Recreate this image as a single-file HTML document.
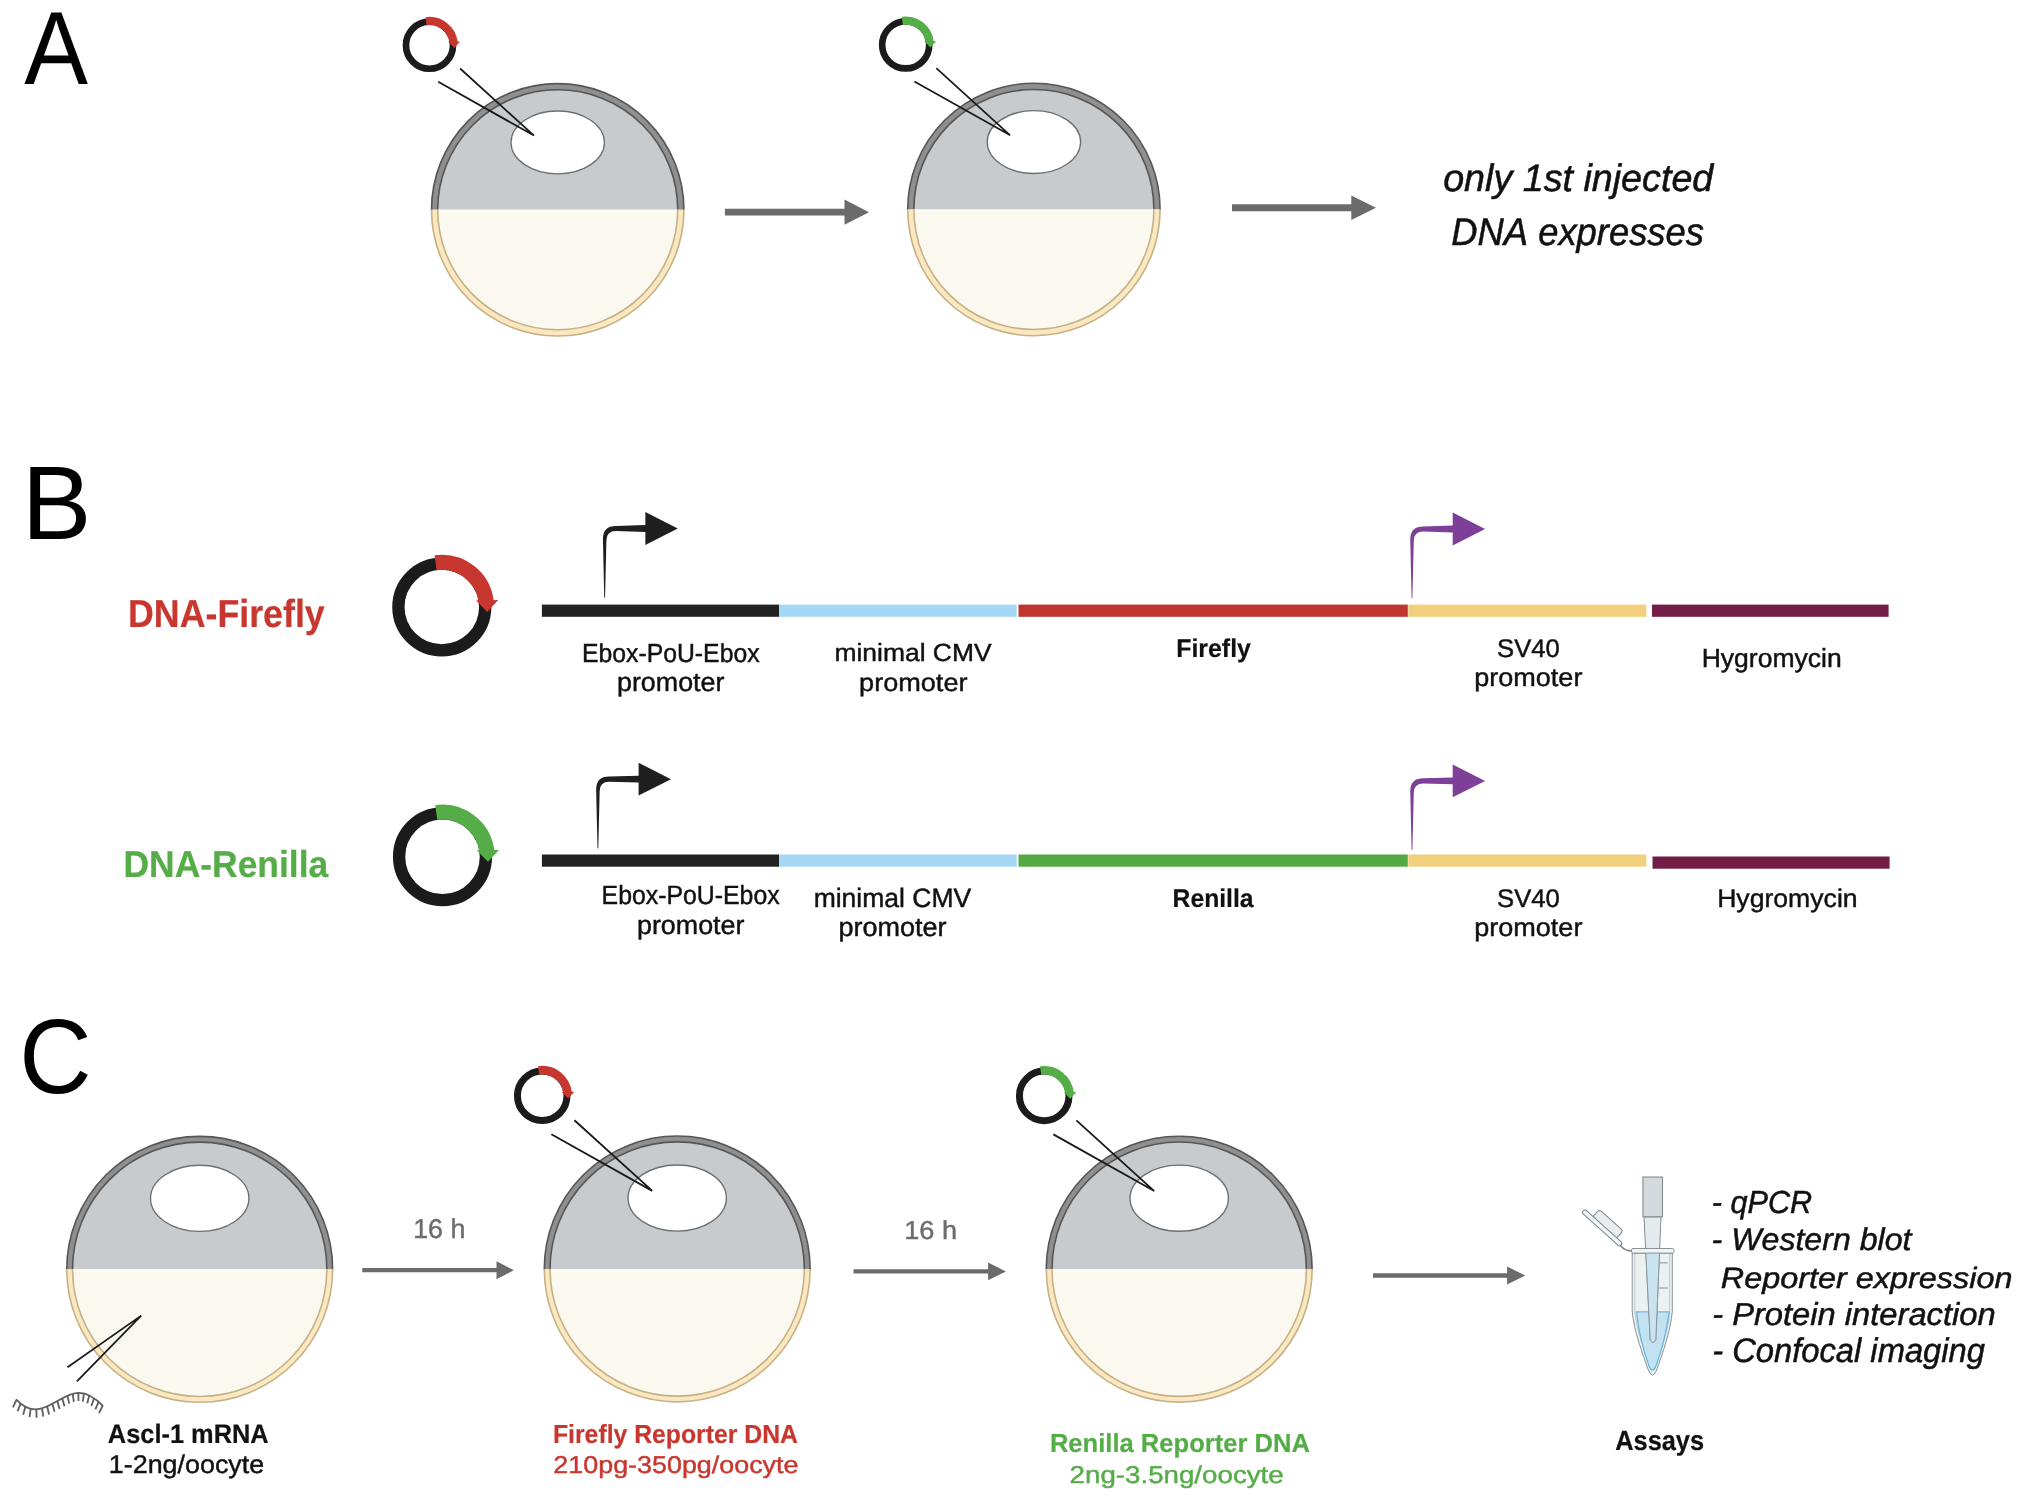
<!DOCTYPE html>
<html><head><meta charset="utf-8"><style>
html,body{margin:0;padding:0;background:#fff;width:2024px;height:1503px;overflow:hidden}
svg{display:block;will-change:transform}
text{font-family:"Liberation Sans",sans-serif;font-kerning:none;text-rendering:geometricPrecision}
</style></head><body>
<svg width="2024" height="1503" viewBox="0 0 2024 1503">
<rect width="2024" height="1503" fill="#fff"/>
<defs><clipPath id="ctop"><rect x="-200" y="-200" width="400" height="200"/></clipPath><clipPath id="cbot"><rect x="-200" y="0" width="400" height="200"/></clipPath></defs>
<text transform="translate(24.21,84.20) scale(0.9213,1)" style="font-size:103.78px;font-weight:400;font-style:normal" fill="#000" stroke="#000" stroke-width="0.00" >A</text>
<text transform="translate(21.63,538.50) scale(0.9996,1)" style="font-size:104.51px;font-weight:400;font-style:normal" fill="#000" stroke="#000" stroke-width="0.00" >B</text>
<text transform="translate(19.26,1093.01) scale(0.9452,1)" style="font-size:106.00px;font-weight:400;font-style:normal" fill="#000" stroke="#000" stroke-width="0.00" >C</text>
<g transform="translate(557.7,209.8) scale(1.0)">
<g><g clip-path="url(#ctop)"><circle r="124" fill="#c8cbce"/><circle r="123.1" fill="none" stroke="#565656" stroke-width="7.8"/><circle r="123.1" fill="none" stroke="#8f8f8f" stroke-width="4.6"/></g><g clip-path="url(#cbot)"><circle r="124" fill="#fbf8f0"/><rect x="-124" y="0.3" width="248" height="2.2" fill="#fffdf3"/><circle r="123.1" fill="none" stroke="#c4b186" stroke-width="7.8"/><circle r="123.1" fill="none" stroke="#fbe8c0" stroke-width="4.6"/></g><ellipse cx="0" cy="-67.4" rx="46.7" ry="31.4" fill="#ffffff" stroke="#6b7075" stroke-width="1.3"/></g>
<path d="M-119.5,-128 L-23.7,-74.2 M-97.6,-141.3 L-23.7,-74.2" fill="none" stroke="#1a1a1a" stroke-width="1.75"/>
<g transform="translate(-128.2,-164.6) scale(0.542)"><g><circle cx="0" cy="0" r="43.4" fill="none" stroke="#1b1b1b" stroke-width="12.3"/><path d="M-6.23,-44.31 A44.75,44.75 0 0 1 44.50,-4.68" fill="none" stroke="#c8372f" stroke-width="15"/><path d="M34.2,-6.6 L56.4,-6.9 L45.5,5.0 Z" fill="#c8372f"/></g></g>
</g>
<g transform="translate(1033.9,209.5) scale(1.0)">
<g><g clip-path="url(#ctop)"><circle r="124" fill="#c8cbce"/><circle r="123.1" fill="none" stroke="#565656" stroke-width="7.8"/><circle r="123.1" fill="none" stroke="#8f8f8f" stroke-width="4.6"/></g><g clip-path="url(#cbot)"><circle r="124" fill="#fbf8f0"/><rect x="-124" y="0.3" width="248" height="2.2" fill="#fffdf3"/><circle r="123.1" fill="none" stroke="#c4b186" stroke-width="7.8"/><circle r="123.1" fill="none" stroke="#fbe8c0" stroke-width="4.6"/></g><ellipse cx="0" cy="-67.4" rx="46.7" ry="31.4" fill="#ffffff" stroke="#6b7075" stroke-width="1.3"/></g>
<path d="M-119.5,-128 L-23.7,-74.2 M-97.6,-141.3 L-23.7,-74.2" fill="none" stroke="#1a1a1a" stroke-width="1.75"/>
<g transform="translate(-128.2,-164.6) scale(0.542)"><g><circle cx="0" cy="0" r="43.4" fill="none" stroke="#1b1b1b" stroke-width="12.3"/><path d="M-6.23,-44.31 A44.75,44.75 0 0 1 44.50,-4.68" fill="none" stroke="#55ad47" stroke-width="15"/><path d="M34.2,-6.6 L56.4,-6.9 L45.5,5.0 Z" fill="#55ad47"/></g></g>
</g>
<path d="M724.9,208.85 L844.5,208.85 L844.5,199.60 L869,212.2 L844.5,224.80 L844.5,215.55 L724.9,215.55 Z" fill="#6b6b6b"/>
<path d="M1232,204.30 L1351.3,204.30 L1351.3,195.50 L1376,207.8 L1351.3,220.10 L1351.3,211.30 L1232,211.30 Z" fill="#6b6b6b"/>
<text transform="translate(1443.14,191.20) scale(0.9881,1)" style="font-size:38.13px;font-weight:400;font-style:italic" fill="#111" stroke="#111" stroke-width="0.54" >only 1st injected</text>
<text transform="translate(1451.35,244.90) scale(0.9466,1)" style="font-size:38.42px;font-weight:400;font-style:italic" fill="#111" stroke="#111" stroke-width="0.54" >DNA expresses</text>
<text transform="translate(128.03,627.00) scale(0.9165,1)" style="font-size:39.03px;font-weight:700;font-style:normal" fill="#c8372f" stroke="#c8372f" stroke-width="0.24" >DNA-Firefly</text>
<text transform="translate(123.55,877.00) scale(0.9479,1)" style="font-size:37.37px;font-weight:700;font-style:normal" fill="#55ad47" stroke="#55ad47" stroke-width="0.24" >DNA-Renilla</text>
<g transform="translate(441.8,607)"><g><circle cx="0" cy="0" r="43.4" fill="none" stroke="#1b1b1b" stroke-width="12.3"/><path d="M-6.23,-44.31 A44.75,44.75 0 0 1 44.50,-4.68" fill="none" stroke="#c8372f" stroke-width="15"/><path d="M34.2,-6.6 L56.4,-6.9 L45.5,5.0 Z" fill="#c8372f"/></g></g>
<g transform="translate(442.5,856.8)"><g><circle cx="0" cy="0" r="43.4" fill="none" stroke="#1b1b1b" stroke-width="12.3"/><path d="M-6.23,-44.31 A44.75,44.75 0 0 1 44.50,-4.68" fill="none" stroke="#55ad47" stroke-width="15"/><path d="M34.2,-6.6 L56.4,-6.9 L45.5,5.0 Z" fill="#55ad47"/></g></g>
<rect x="541.9" y="604.60" width="237.10" height="12.2" fill="#222222"/>
<rect x="779" y="604.60" width="237.70" height="12.2" fill="#a5d8f6"/>
<rect x="1018.5" y="604.60" width="389.30" height="12.2" fill="#c0352d"/>
<rect x="1408.3" y="604.60" width="238.00" height="12.2" fill="#f2cf7c"/>
<rect x="1652" y="604.60" width="236.60" height="12.2" fill="#721d45"/>
<rect x="541.9" y="854.50" width="237.10" height="12.2" fill="#222222"/>
<rect x="779" y="854.50" width="237.70" height="12.2" fill="#a5d8f6"/>
<rect x="1018.5" y="854.50" width="389.30" height="12.2" fill="#55a944"/>
<rect x="1408.3" y="854.50" width="238.00" height="12.2" fill="#f2cf7c"/>
<rect x="1652.5" y="856.50" width="237.10" height="12.2" fill="#721d45"/>
<path transform="translate(604.66,528.6)" fill="#1f1f1f" d="M-0.4,69.2 L-1.75,10.4 Q-1.75,-2.6 11.3,-2.6 L40.7,-3.5 L40.7,-16.5 L73.1,0 L40.7,16.4 L40.7,3.4 L11.3,2.5 Q1.75,2.5 1.75,12 L0.4,69.2 Z"/>
<path transform="translate(597.9,779.2)" fill="#1f1f1f" d="M-0.4,69.2 L-1.75,10.4 Q-1.75,-2.6 11.3,-2.6 L40.7,-3.5 L40.7,-16.5 L73.1,0 L40.7,16.4 L40.7,3.4 L11.3,2.5 Q1.75,2.5 1.75,12 L0.4,69.2 Z"/>
<path transform="translate(1412,529.0)" fill="#7e3f98" d="M-0.4,69.2 L-1.75,10.4 Q-1.75,-2.6 11.3,-2.6 L40.7,-3.5 L40.7,-16.5 L73.1,0 L40.7,16.4 L40.7,3.4 L11.3,2.5 Q1.75,2.5 1.75,12 L0.4,69.2 Z"/>
<path transform="translate(1412,780.9)" fill="#7e3f98" d="M-0.4,69.2 L-1.75,10.4 Q-1.75,-2.6 11.3,-2.6 L40.7,-3.5 L40.7,-16.5 L73.1,0 L40.7,16.4 L40.7,3.4 L11.3,2.5 Q1.75,2.5 1.75,12 L0.4,69.2 Z"/>
<text transform="translate(581.89,661.50) scale(0.9516,1)" style="font-size:26.05px;font-weight:400;font-style:normal" fill="#111" stroke="#111" stroke-width="0.44" >Ebox-PoU-Ebox</text>
<text transform="translate(616.99,691.30) scale(1.0164,1)" style="font-size:26.41px;font-weight:400;font-style:normal" fill="#111" stroke="#111" stroke-width="0.45" >promoter</text>
<text transform="translate(834.46,661.40) scale(1.0651,1)" style="font-size:24.82px;font-weight:400;font-style:normal" fill="#111" stroke="#111" stroke-width="0.43" >minimal CMV</text>
<text transform="translate(859.07,690.50) scale(1.0763,1)" style="font-size:25.18px;font-weight:400;font-style:normal" fill="#111" stroke="#111" stroke-width="0.44" >promoter</text>
<text transform="translate(1176.23,657.20) scale(0.9697,1)" style="font-size:25.67px;font-weight:700;font-style:normal" fill="#111" stroke="#111" stroke-width="0.20" >Firefly</text>
<text transform="translate(1497.06,657.20) scale(0.9997,1)" style="font-size:25.61px;font-weight:400;font-style:normal" fill="#111" stroke="#111" stroke-width="0.44" >SV40</text>
<text transform="translate(1474.18,686.30) scale(1.0549,1)" style="font-size:25.65px;font-weight:400;font-style:normal" fill="#111" stroke="#111" stroke-width="0.44" >promoter</text>
<text transform="translate(1701.65,666.90) scale(1.0131,1)" style="font-size:26.19px;font-weight:400;font-style:normal" fill="#111" stroke="#111" stroke-width="0.45" >Hygromycin</text>
<text transform="translate(601.59,904.20) scale(0.9433,1)" style="font-size:26.33px;font-weight:400;font-style:normal" fill="#111" stroke="#111" stroke-width="0.45" >Ebox-PoU-Ebox</text>
<text transform="translate(636.99,933.80) scale(1.0164,1)" style="font-size:26.41px;font-weight:400;font-style:normal" fill="#111" stroke="#111" stroke-width="0.45" >promoter</text>
<text transform="translate(813.66,907.00) scale(0.9961,1)" style="font-size:26.60px;font-weight:400;font-style:normal" fill="#111" stroke="#111" stroke-width="0.45" >minimal CMV</text>
<text transform="translate(838.58,936.40) scale(1.0222,1)" style="font-size:26.41px;font-weight:400;font-style:normal" fill="#111" stroke="#111" stroke-width="0.45" >promoter</text>
<text transform="translate(1172.54,907.20) scale(0.9635,1)" style="font-size:25.67px;font-weight:700;font-style:normal" fill="#111" stroke="#111" stroke-width="0.20" >Renilla</text>
<text transform="translate(1497.06,907.20) scale(0.9997,1)" style="font-size:25.61px;font-weight:400;font-style:normal" fill="#111" stroke="#111" stroke-width="0.44" >SV40</text>
<text transform="translate(1474.18,936.30) scale(1.0549,1)" style="font-size:25.65px;font-weight:400;font-style:normal" fill="#111" stroke="#111" stroke-width="0.44" >promoter</text>
<text transform="translate(1717.14,907.00) scale(1.0434,1)" style="font-size:25.50px;font-weight:400;font-style:normal" fill="#111" stroke="#111" stroke-width="0.44" >Hygromycin</text>
<g transform="translate(199.7,1269.3) scale(1.053)">
<g><g clip-path="url(#ctop)"><circle r="124" fill="#c8cbce"/><circle r="123.5" fill="none" stroke="#565656" stroke-width="7.0"/><circle r="123.5" fill="none" stroke="#8f8f8f" stroke-width="4.0"/></g><g clip-path="url(#cbot)"><circle r="124" fill="#fbf8f0"/><rect x="-124" y="0.3" width="248" height="2.2" fill="#fffdf3"/><circle r="123.5" fill="none" stroke="#c4b186" stroke-width="7.0"/><circle r="123.5" fill="none" stroke="#fbe8c0" stroke-width="4.0"/></g><ellipse cx="0" cy="-67.4" rx="46.7" ry="31.4" fill="#ffffff" stroke="#6b7075" stroke-width="1.3"/></g>
</g>
<g transform="translate(677.2,1269.0) scale(1.053)">
<g><g clip-path="url(#ctop)"><circle r="124" fill="#c8cbce"/><circle r="123.5" fill="none" stroke="#565656" stroke-width="7.0"/><circle r="123.5" fill="none" stroke="#8f8f8f" stroke-width="4.0"/></g><g clip-path="url(#cbot)"><circle r="124" fill="#fbf8f0"/><rect x="-124" y="0.3" width="248" height="2.2" fill="#fffdf3"/><circle r="123.5" fill="none" stroke="#c4b186" stroke-width="7.0"/><circle r="123.5" fill="none" stroke="#fbe8c0" stroke-width="4.0"/></g><ellipse cx="0" cy="-67.4" rx="46.7" ry="31.4" fill="#ffffff" stroke="#6b7075" stroke-width="1.3"/></g>
<path d="M-119.5,-128 L-23.7,-74.2 M-97.6,-141.3 L-23.7,-74.2" fill="none" stroke="#1a1a1a" stroke-width="1.75"/>
<g transform="translate(-128.2,-164.6) scale(0.542)"><g><circle cx="0" cy="0" r="43.4" fill="none" stroke="#1b1b1b" stroke-width="12.3"/><path d="M-6.23,-44.31 A44.75,44.75 0 0 1 44.50,-4.68" fill="none" stroke="#c8372f" stroke-width="15"/><path d="M34.2,-6.6 L56.4,-6.9 L45.5,5.0 Z" fill="#c8372f"/></g></g>
</g>
<g transform="translate(1179.2,1269.2) scale(1.053)">
<g><g clip-path="url(#ctop)"><circle r="124" fill="#c8cbce"/><circle r="123.5" fill="none" stroke="#565656" stroke-width="7.0"/><circle r="123.5" fill="none" stroke="#8f8f8f" stroke-width="4.0"/></g><g clip-path="url(#cbot)"><circle r="124" fill="#fbf8f0"/><rect x="-124" y="0.3" width="248" height="2.2" fill="#fffdf3"/><circle r="123.5" fill="none" stroke="#c4b186" stroke-width="7.0"/><circle r="123.5" fill="none" stroke="#fbe8c0" stroke-width="4.0"/></g><ellipse cx="0" cy="-67.4" rx="46.7" ry="31.4" fill="#ffffff" stroke="#6b7075" stroke-width="1.3"/></g>
<path d="M-119.5,-128 L-23.7,-74.2 M-97.6,-141.3 L-23.7,-74.2" fill="none" stroke="#1a1a1a" stroke-width="1.75"/>
<g transform="translate(-128.2,-164.6) scale(0.542)"><g><circle cx="0" cy="0" r="43.4" fill="none" stroke="#1b1b1b" stroke-width="12.3"/><path d="M-6.23,-44.31 A44.75,44.75 0 0 1 44.50,-4.68" fill="none" stroke="#55ad47" stroke-width="15"/><path d="M34.2,-6.6 L56.4,-6.9 L45.5,5.0 Z" fill="#55ad47"/></g></g>
</g>
<path d="M362.3,1268.05 L496.5,1268.05 L496.5,1261.20 L513.9,1270.2 L496.5,1279.20 L496.5,1272.35 L362.3,1272.35 Z" fill="#6b6b6b"/>
<path d="M853.5,1269.25 L988.1,1269.25 L988.1,1262.50 L1005.9,1271.4 L988.1,1280.30 L988.1,1273.55 L853.5,1273.55 Z" fill="#6b6b6b"/>
<path d="M1373,1273.20 L1507.1,1273.20 L1507.1,1266.50 L1525.2,1275.5 L1507.1,1284.50 L1507.1,1277.80 L1373,1277.80 Z" fill="#6b6b6b"/>
<text transform="translate(413.18,1238.40) scale(0.9885,1)" style="font-size:27.15px;font-weight:400;font-style:normal" fill="#6d6d6d" stroke="#6d6d6d" stroke-width="0.45" >16 h</text>
<text transform="translate(904.26,1239.00) scale(1.0465,1)" style="font-size:25.92px;font-weight:400;font-style:normal" fill="#6d6d6d" stroke="#6d6d6d" stroke-width="0.44" >16 h</text>
<path d="M67.5,1367.3 L141.2,1315.6 M76.9,1381.3 L141.2,1315.6" fill="none" stroke="#1a1a1a" stroke-width="1.75"/>
<path d="M16,1399.3 C22,1405.5 28,1409.4 35.5,1409.4 C50,1409.4 64,1392.8 78.8,1392.8 C88,1392.8 96,1398.5 103.1,1406.2" fill="none" stroke="#5e5e5e" stroke-width="1.8"/>
<path d="M16.45,1399.76 L12.93,1407.28 M20.61,1403.57 L17.58,1411.29 M25.38,1406.78 L23.15,1414.77 M30.65,1408.83 L29.56,1417.05 M36.37,1409.38 L36.57,1417.68 M42.00,1408.39 L43.30,1416.59 M47.16,1406.42 L49.10,1414.49 M52.31,1403.79 L54.59,1411.78 M57.25,1400.98 L59.62,1408.93 M62.20,1398.17 L64.45,1406.16 M67.40,1395.58 L69.28,1403.67 M72.63,1393.68 L73.84,1401.90 M78.36,1392.80 L78.46,1401.10 M83.92,1393.39 L82.88,1401.63 M89.28,1395.30 L87.26,1403.35 M94.13,1398.16 L91.39,1405.99 M98.62,1401.75 L95.35,1409.38 M102.67,1405.74 L99.05,1413.21" fill="none" stroke="#5e5e5e" stroke-width="1.8"/>
<g>
<g transform="translate(1584,1211.5) rotate(42)"><rect x="10" y="-11.8" width="32" height="10.5" rx="2.8" fill="#e8eeef" stroke="#7f878b" stroke-width="1"/><rect x="-1" y="-2.3" width="51" height="4.6" rx="2.3" fill="#f1f5f6" stroke="#7f878b" stroke-width="1"/></g>
<path d="M1620.5,1245.5 Q1624.5,1251 1632,1251" fill="none" stroke="#7f878b" stroke-width="1.6"/>
<path d="M1632.2,1253.1 L1632.2,1311 C1633.5,1330 1643,1355 1648.3,1370 Q1652.5,1380 1656.7,1370 C1662,1355 1671,1330 1672.3,1311 L1672.3,1253.1 Z" fill="#ebf1f3" stroke="#8a9296" stroke-width="1"/>
<path d="M1634.8,1254 L1634.8,1311 C1636,1329 1645,1353 1649.8,1367 Q1652.5,1375 1655.2,1367 C1660,1353 1669,1329 1669.7,1311 L1669.7,1254" fill="none" stroke="#b4bcc0" stroke-width="0.8"/>
<path d="M1636.4,1311.8 L1669.2,1311.8 C1666,1335 1660,1355 1656,1366 Q1652.5,1374 1649,1366 C1645,1355 1639,1335 1636.4,1311.8 Z" fill="#c2e1f1" stroke="#5fb2da" stroke-width="1.1"/>
<path d="M1636.4,1311.8 L1669.2,1311.8" stroke="#9fc3d3" stroke-width="1"/>
<path d="M1659.4,1262.9 L1667.8,1262.9 M1659.4,1288 L1667.8,1288" stroke="#8a9296" stroke-width="1"/>
<clipPath id="ctube"><rect x="1600" y="1253" width="100" height="150"/></clipPath>
<path d="M1644,1216.8 L1650.2,1339.5 Q1653,1345.5 1655.8,1339.5 L1661,1216.8 Z" fill="#e4eaed" stroke="#838b8f" stroke-width="1"/>
<path clip-path="url(#ctube)" d="M1644,1216.8 L1650.2,1339.5 Q1653,1345.5 1655.8,1339.5 L1661,1216.8 Z" fill="#c9e3f0" stroke="#8a9aa2" stroke-width="1"/>
<rect x="1642.9" y="1177" width="19.6" height="39.8" fill="#d3d9dc" stroke="#7d8589" stroke-width="1"/>
<rect x="1631.5" y="1248.5" width="42.6" height="4.6" rx="1.5" fill="#f2f5f6" stroke="#8a9296" stroke-width="1"/>
</g>
<text transform="translate(107.87,1443.00) scale(0.9432,1)" style="font-size:26.91px;font-weight:700;font-style:normal" fill="#111" stroke="#111" stroke-width="0.20" >Ascl-1 mRNA</text>
<text transform="translate(108.87,1473.30) scale(1.0532,1)" style="font-size:25.50px;font-weight:400;font-style:normal" fill="#111" stroke="#111" stroke-width="0.44" >1-2ng/oocyte</text>
<text transform="translate(552.94,1443.00) scale(0.9501,1)" style="font-size:26.09px;font-weight:700;font-style:normal" fill="#c8372f" stroke="#c8372f" stroke-width="0.20" >Firefly Reporter DNA</text>
<text transform="translate(553.36,1472.60) scale(1.1076,1)" style="font-size:24.27px;font-weight:400;font-style:normal" fill="#c8372f" stroke="#c8372f" stroke-width="0.43" >210pg-350pg/oocyte</text>
<text transform="translate(1049.89,1452.20) scale(0.9806,1)" style="font-size:26.09px;font-weight:700;font-style:normal" fill="#55ad47" stroke="#55ad47" stroke-width="0.20" >Renilla Reporter DNA</text>
<text transform="translate(1069.62,1482.60) scale(1.1415,1)" style="font-size:24.27px;font-weight:400;font-style:normal" fill="#55ad47" stroke="#55ad47" stroke-width="0.43" >2ng-3.5ng/oocyte</text>
<text transform="translate(1615.17,1450.20) scale(0.9150,1)" style="font-size:27.76px;font-weight:700;font-style:normal" fill="#111" stroke="#111" stroke-width="0.20" >Assays</text>
<text transform="translate(1711.67,1213.20) scale(0.9621,1)" style="font-size:31.87px;font-weight:400;font-style:italic" fill="#111" stroke="#111" stroke-width="0.49" >- qPCR</text>
<text transform="translate(1711.60,1250.40) scale(1.0229,1)" style="font-size:31.40px;font-weight:400;font-style:italic" fill="#111" stroke="#111" stroke-width="0.49" >- Western blot</text>
<text transform="translate(1720.84,1288.00) scale(1.0988,1)" style="font-size:29.48px;font-weight:400;font-style:italic" fill="#111" stroke="#111" stroke-width="0.47" >Reporter expression</text>
<text transform="translate(1712.17,1324.80) scale(1.0323,1)" style="font-size:31.68px;font-weight:400;font-style:italic" fill="#111" stroke="#111" stroke-width="0.49" >- Protein interaction</text>
<text transform="translate(1712.18,1361.70) scale(0.9622,1)" style="font-size:34.01px;font-weight:400;font-style:italic" fill="#111" stroke="#111" stroke-width="0.51" >- Confocal imaging</text>
</svg>
</body></html>
